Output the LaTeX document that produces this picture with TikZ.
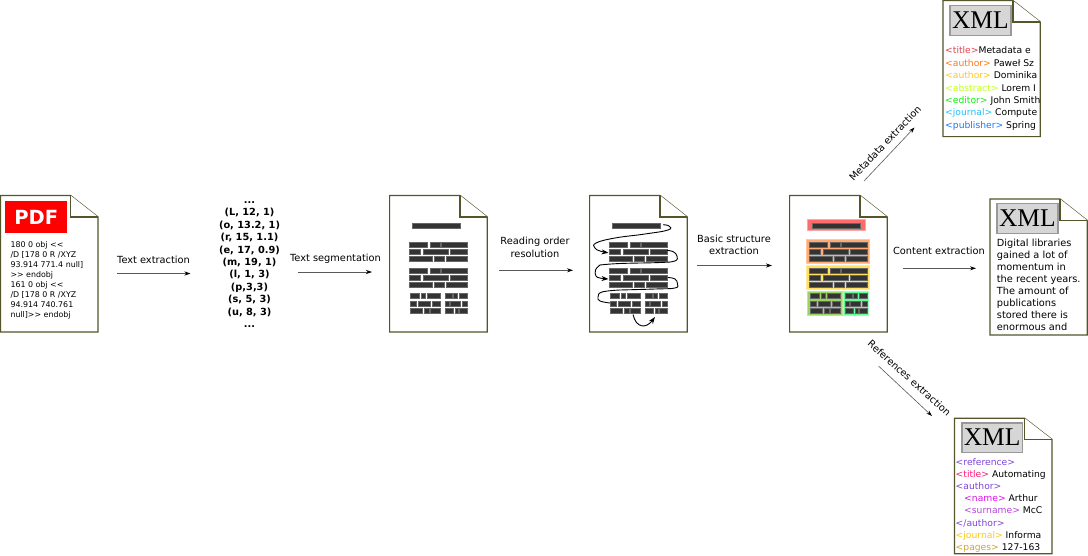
\documentclass[tikz,border=0pt]{standalone}
\usepackage{fontspec}
\setmainfont{DejaVu Sans}
\newfontfamily\xmlfont{Liberation Serif}
\usetikzlibrary{arrows.meta}
\definecolor{docline}{HTML}{55552A}
\definecolor{brickc}{HTML}{333333}
\definecolor{cTitle}{HTML}{E04550}
\definecolor{cAuthA}{HTML}{FF7718}
\definecolor{cAuthB}{HTML}{FFC820}
\definecolor{cAbs}{HTML}{C4FF20}
\definecolor{cEd}{HTML}{14EE14}
\definecolor{cJour}{HTML}{22C4FF}
\definecolor{cPub}{HTML}{1A77FF}
\definecolor{rRef}{HTML}{7F44DD}
\definecolor{rTitle}{HTML}{FF1A77}
\definecolor{rName}{HTML}{DD11EE}
\definecolor{rSur}{HTML}{B444DD}
\definecolor{rJour}{HTML}{FFC811}
\definecolor{rPages}{HTML}{CCA533}
\tikzset{
  sheet/.style={draw=docline,fill=white,line width=1.2pt,line join=miter},
  brick/.style={fill=brickc,draw=brickc!75,line width=0.5pt},
  flow/.style={draw=black!65,line width=0.6pt,-{Stealth[length=6pt,width=4pt,black]}},
  route/.style={draw=black,line width=0.9pt},
  routearrow/.style={route,-{Stealth[length=7pt,width=5pt]}},
  steplabel/.style={inner sep=0pt,align=center,font=\fontsize{9.8}{12.5}\selectfont,text=black},
  xmlbadge/.style={draw=black!40,line width=1.2pt,fill=black!16,inner sep=0pt,anchor=north west,
    font=\xmlfont\fontsize{25.5}{26}\selectfont,text=black},
  listing/.style={inner sep=0pt,anchor=north west,align=left,text=black},
  hl/.style={line width=0.8pt}
}
\newcommand{\docsheet}[6]{%
  \path[sheet] (#1,#2) -- (#5,#2) -- (#3,#6) -- (#3,#4) -- (#1,#4) -- cycle;
  \path[sheet] (#5,#2) -- (#5,#6) -- (#3,#6);
}
% one row of bricks: y0, y1, then list of x-ranges
\newcommand{\brickrow}[3]{%
  \foreach \xa/\xb in {#3} {\path[brick] (\xa,#1) rectangle (\xb,#2);}
}
\newcommand{\paragraphbricks}[1]{%
  \brickrow{#1+0.2}{#1+5}{409.3/427.5,430/439.8,441.6/466.8}
  \brickrow{#1+7.5}{#1+12.3}{409.3/420.1,423/447.8,450.6/466.8}
  \brickrow{#1+14.7}{#1+19.5}{409.3/432.1,434.6/443.8,446.3/466.8}
}
\newcommand{\pagebricks}{%
  \path[brick] (412.6,223) rectangle (460.5,227.8);
  \paragraphbricks{242}
  \paragraphbricks{267.8}
  \brickrow{293.6}{298.5}{410.6/419.1,421.6/425.5,427.3/440.5,445.3/451.8,453.6/457.1,459/467.1}
  \brickrow{300.9}{305.8}{410.6/415.8,418/430.5,432.3/440.5,445.3/448.8,450.6/460.1,462/467.1}
  \brickrow{307.9}{312.8}{410.6/421.8,424/428.8,430.6/440.5,445.3/453.5,455.6/457.8,459.6/467.1}
}
\begin{document}
\begin{tikzpicture}[x=1pt,y=-1pt]
\useasboundingbox (0,0) rectangle (1088,555);

% sheets
\docsheet{0.6}{195.4}{98}{332}{70.5}{217}
\docsheet{389.6}{195.4}{487.3}{332}{460}{217}
\docsheet{589.6}{195.4}{687.3}{332}{660}{217}
\docsheet{789.6}{195.4}{887.3}{332}{860}{217}
\docsheet{943}{0.6}{1040.3}{136.6}{1013}{22}
\docsheet{990}{199}{1087.3}{335}{1060}{220.5}
\docsheet{954.4}{418.2}{1052}{553.8}{1024.6}{439.4}

% PDF sheet
\node[fill=red,text=white,minimum width=62.3pt,minimum height=31.4pt,inner sep=0pt,
  font=\bfseries\fontsize{19.5}{19.5}\selectfont] (pdfbadge) at (36.2,217) {PDF};
\node[listing,font=\fontsize{7.9}{9.98}\selectfont] (pdftext) at (10.3,241.2) {180 0 obj <{}<\\/D [178 0 R /XYZ\\93.914 771.4 null]\\>{}> endobj\\161 0 obj <{}<\\/D [178 0 R /XYZ\\94.914 740.761\\null]>{}> endobj};

% tuples
\node[inner sep=0pt,align=center,text=black,font=\bfseries\fontsize{9.8}{12.4}\selectfont] (tuples) at (249.5,264.5)
  {...\\(L, 12, 1)\\(o, 13.2, 1)\\(r, 15, 1.1)\\(e, 17, 0.9)\\(m, 19, 1)\\(l, 1, 3)\\(p,3,3)\\(s, 5, 3)\\(u, 8, 3)\\...};

% brick pages
\pagebricks
\begin{scope}[xshift=200pt]\pagebricks\end{scope}

% reading-order routes
\draw[routearrow] plot[smooth,tension=0.75] coordinates {(663,224.7) (669,226) (668,230) (645,234) (615,238) (596,243) (595,248) (600,251) (608.5,252.8)};
\draw[route] plot[smooth,tension=0.7] coordinates {(667,250.5) (673,251.5) (677,256) (675,261) (660,262.5) (620,263.5) (600,265)};
\draw[routearrow] plot[smooth,tension=0.7] coordinates {(600,265) (595.5,270) (596,276) (600,278) (608.5,279)};
\draw[route] plot[smooth,tension=0.7] coordinates {(668,277.5) (675,279) (677.5,284) (675,288) (655,289) (620,290)};
\draw[route] plot[smooth,tension=0.7] coordinates {(620,290) (602,292) (598,297) (600,301) (610,303)};
\draw[routearrow] (633,314.5) .. controls (636,328) and (646,329) .. (655,317);

% highlighted page
\path[hl,fill=red!58,draw=red!35] (807.8,219.5) rectangle (865.8,230.7);
\path[hl,fill={rgb,255:red,255;green,170;blue,115},draw={rgb,255:red,255;green,200;blue,160}] (806.4,239.5) rectangle (869.8,263);
\path[hl,fill={rgb,255:red,255;green,222;blue,100},draw={rgb,255:red,255;green,235;blue,150}] (806.4,265.2) rectangle (869.8,289);
\path[hl,fill={rgb,255:red,155;green,210;blue,100},draw={rgb,255:red,190;green,230;blue,150}] (807.8,291.5) rectangle (842.3,315.3);
\path[hl,fill={rgb,255:red,100;green,250;blue,150},draw={rgb,255:red,160;green,255;blue,190}] (843.8,291.5) rectangle (868.2,315.3);
\begin{scope}[xshift=400pt]\pagebricks\end{scope}

% XML badges
\node[xmlbadge,minimum width=61pt,minimum height=30pt] (xmlmeta) at (949.3,4.7) {XML};
\node[xmlbadge,minimum width=61pt,minimum height=30pt] (xmlcontent) at (996.3,202.7) {XML};
\node[xmlbadge,minimum width=60.4pt,minimum height=29.4pt] (xmlref) at (961.3,422.3) {XML};

% listings
\node[listing,font=\fontsize{9.2}{12.45}\selectfont] (metatext) at (945,46.5) {%
\textcolor{cTitle}{<title>}Metadata e\\
\textcolor{cAuthA}{<author>} Paweł Sz\\
\textcolor{cAuthB}{<author>} Dominika\\
\textcolor{cAbs}{<abstract>} Lorem I\\
\textcolor{cEd}{<editor>} John Smith\\
\textcolor{cJour}{<journal>} Compute\\
\textcolor{cPub}{<publisher>} Spring};
\node[listing,font=\fontsize{9.8}{12.12}\selectfont] (contenttext) at (996.7,238.5) {Digital libraries\\gained a lot of\\momentum in\\the recent years.\\The amount of\\publications\\stored there is\\enormous and};
\node[listing,font=\fontsize{9.2}{12.2}\selectfont] (reftext) at (955.5,458) {%
\textcolor{rRef}{<reference>}\\
\textcolor{rTitle}{<title>} Automating\\
\textcolor{rRef}{<author>}\\
\hspace*{8.5pt}\textcolor{rName}{<name>} Arthur\\
\hspace*{8.5pt}\textcolor{rSur}{<surname>} McC\\
\textcolor{rRef}{</author>}\\
\textcolor{rJour}{<journal>} Informa\\
\textcolor{rPages}{<pages>} 127-163};

% step arrows
\coordinate (a1s) at (117,273.5); \coordinate (a1e) at (190.5,273.5);
\coordinate (a2s) at (298,272);   \coordinate (a2e) at (372,272);
\coordinate (a3s) at (499,270.3); \coordinate (a3e) at (573,270.3);
\coordinate (a4s) at (697,265.5); \coordinate (a4e) at (772,265.5);
\coordinate (a5s) at (902.7,268.3); \coordinate (a5e) at (976,268.3);
\coordinate (a6s) at (864,181);   \coordinate (a6e) at (914.5,127.5);
\coordinate (a7s) at (878.5,366); \coordinate (a7e) at (932,416);
\draw[flow] (a1s) -- (a1e);
\draw[flow] (a2s) -- (a2e);
\draw[flow] (a3s) -- (a3e);
\draw[flow] (a4s) -- (a4e);
\draw[flow] (a5s) -- (a5e);
\draw[flow] (a6s) -- (a6e);
\draw[flow] (a7s) -- (a7e);

% step labels
\node[steplabel] (l1) at (153.5,259.5) {Text extraction};
\node[steplabel] (l2) at (335.5,258.5) {Text segmentation};
\node[steplabel] (l3) at (535,247.3) {Reading order\\resolution};
\node[steplabel] (l4) at (734,244.8) {Basic structure\\extraction};
\node[steplabel] (l5) at (939,250.5) {Content extraction};
\node[steplabel,rotate=46.5] (l6) at (885,143) {Metadata extraction};
\node[steplabel,rotate=-42] (l7) at (909.5,378) {References extraction};
\end{tikzpicture}
\end{document}
